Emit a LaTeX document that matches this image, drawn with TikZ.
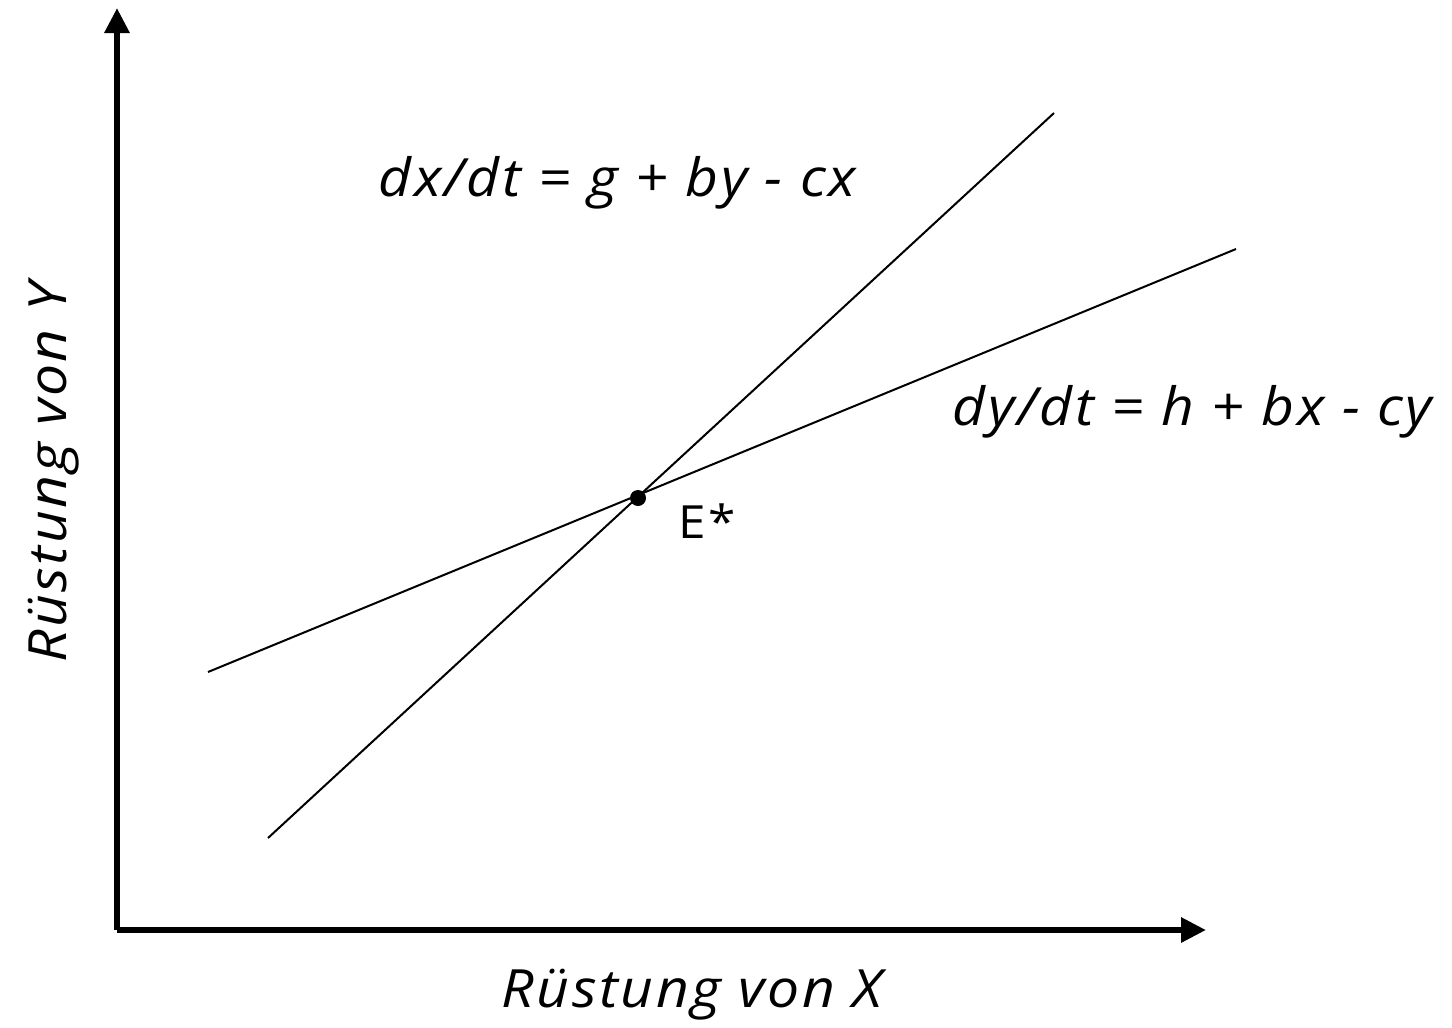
\documentclass[tikz,border=0pt]{standalone}
\usepackage{fontspec}
\setmainfont{Open Sans}
\newfontfamily\labelfont[FakeStretch=1.08, LetterSpace=5]{Open Sans}
\usetikzlibrary{positioning,arrows.meta}

\begin{document}
\begin{tikzpicture}[x=0.01cm, y=-0.01cm,
    axis/.style={line width=0.06cm, -{Triangle[length=0.25cm, width=0.24cm]}},
    curve/.style={line width=0.02cm},
    label/.style={font=\labelfont\fontsize{15}{18}\selectfont\itshape, inner sep=0pt},
    eqlabel/.style={font=\labelfont\fontsize{15}{18}\selectfont\itshape, inner sep=0pt, anchor=base west}
]
\useasboundingbox (0,0) rectangle (1452,1027);

% axes
\coordinate (origin) at (117,930);
\coordinate (ytip) at (117,8);
\coordinate (xtip) at (1206,930);
\draw[axis] (origin) -- (ytip);
\draw[axis] (origin) -- (xtip);

% the two lines
\coordinate (xlow) at (268,838);
\coordinate (xhigh) at (1054,113);
\coordinate (ylow) at (208,672);
\coordinate (yhigh) at (1236,249);
\draw[curve] (xlow) -- (xhigh);
\draw[curve] (ylow) -- (yhigh);

% equilibrium
\fill (638,498) circle (0.08cm) coordinate (eq);
\node[inner sep=0pt, anchor=base west, font=\labelfont\fontsize{13}{16}\selectfont] (estar) at (678,538) {E*};

% labels
\node[eqlabel] (dxdt) at (378,196) {dx/dt = g + by - cx};
\node[eqlabel] (dydt) at (952,425) {dy/dt = h + bx - cy};
\node[label, anchor=base] (xlabel) at (692,1007) {Rüstung von X};
\node[label, anchor=base, rotate=90] (ylabel) at (67,473) {Rüstung von Y};
\end{tikzpicture}
\end{document}
